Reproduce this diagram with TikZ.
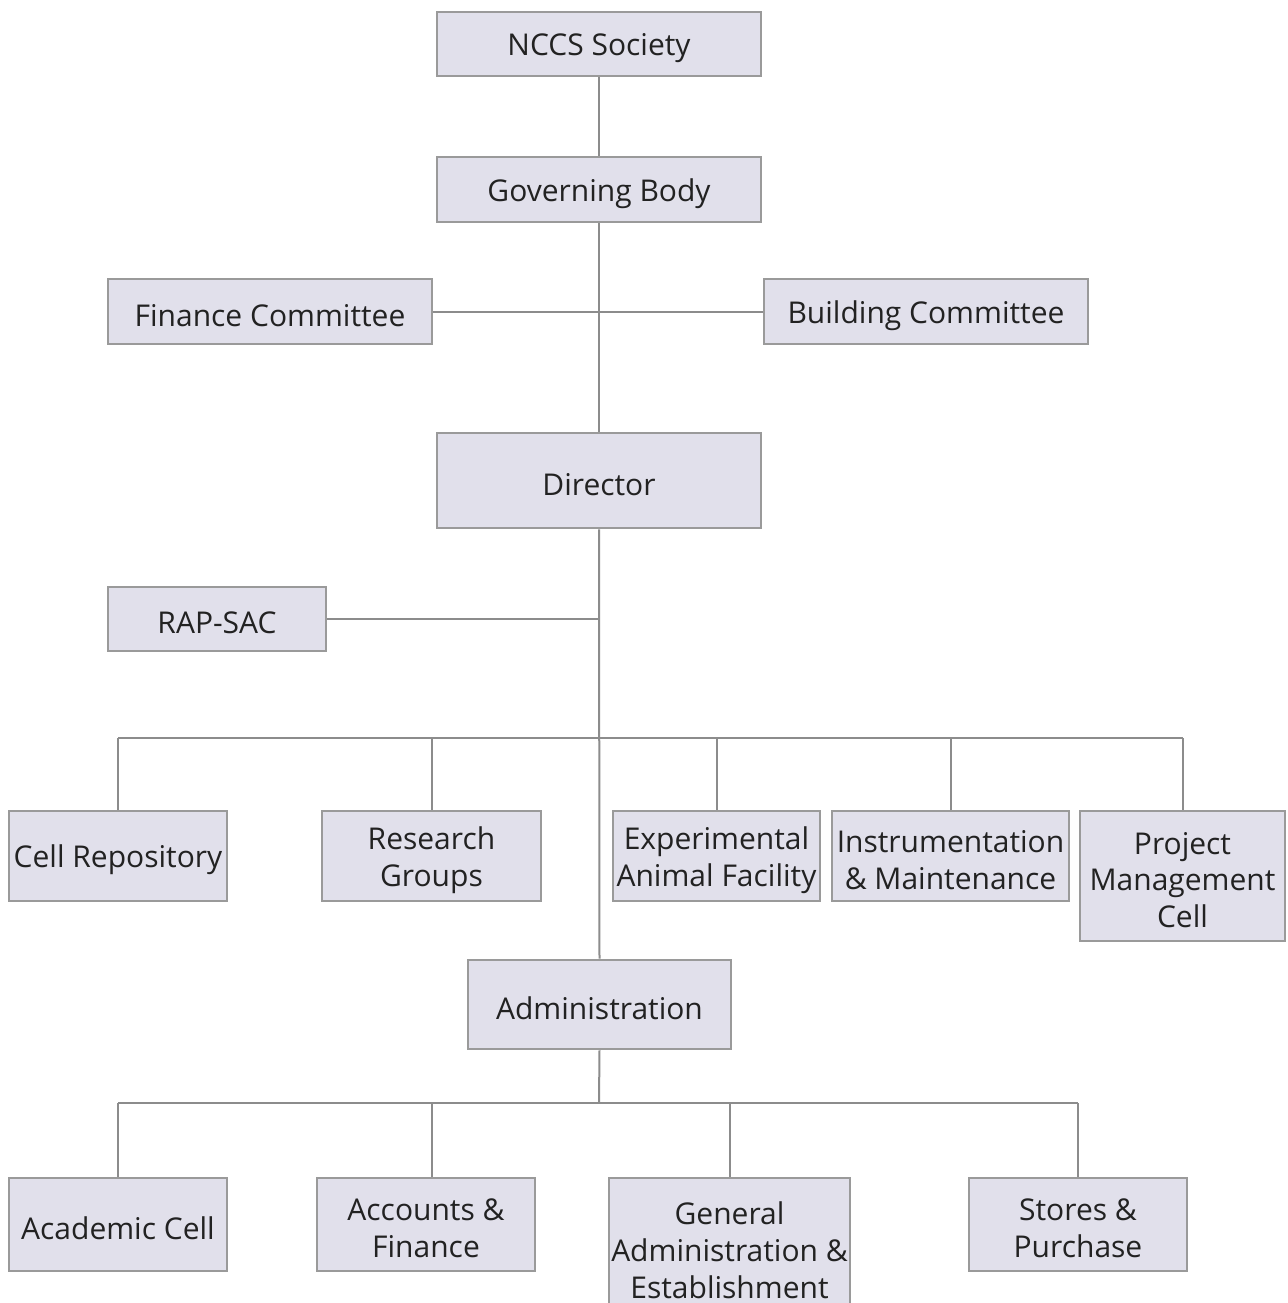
\documentclass[tikz,border=0pt]{standalone}
\usepackage{fontspec}
\setmainfont{Open Sans}
\definecolor{boxfill}{HTML}{E1E0EB}
\definecolor{boxline}{HTML}{9A9A9A}
\definecolor{conn}{HTML}{8C8C8C}
\definecolor{txt}{HTML}{222222}
\begin{document}
\begin{tikzpicture}[x=0.5pt,y=-0.5pt,
  orgbox/.style={draw=boxline, line width=1.4pt, fill=boxfill, rectangle, inner sep=0pt},
  boxtext/.style={text=txt, align=center, inner sep=0pt, yshift=-2pt,
    font=\fontsize{15}{18.4}\selectfont},
  lbl/.style={label={[boxtext]center:#1}},
  link/.style={draw=conn, line width=1pt}]
\useasboundingbox (0,0) rectangle (1287,1303);
\fill[white] (0,0) rectangle (1287,1303);
\coordinate (bus) at (599,738);
\coordinate (busL) at (118,738);
\coordinate (busR) at (1183,738);
\coordinate (abus) at (599,1103);
\coordinate (abusL) at (118,1103);
\coordinate (abusR) at (1078,1103);
% nodes
\node[orgbox, minimum width=162pt, minimum height=32pt, lbl={NCCS Society}] (nccs) at (599,44) {};
\node[orgbox, minimum width=162pt, minimum height=32.5pt, lbl={Governing Body}] (gov) at (599,189.5) {};
\node[orgbox, minimum width=162pt, minimum height=32.5pt, lbl={Finance Committee}] (fin) at (270,311.5) {};
\node[orgbox, minimum width=162pt, minimum height=32.5pt, lbl={Building Committee}] (bld) at (926,311.5) {};
\node[orgbox, minimum width=162pt, minimum height=47.5pt, lbl={Director}] (dir) at (599,480.5) {};
\node[orgbox, minimum width=109pt, minimum height=32pt, lbl={RAP-SAC}] (rap) at (217,619) {};
\node[orgbox, minimum width=109pt, minimum height=45pt, lbl={Cell Repository}] (cell) at (118,856) {};
\node[orgbox, minimum width=109.5pt, minimum height=45pt, lbl={{Research\\Groups}}] (res) at (431.5,856) {};
\node[orgbox, minimum width=103.5pt, minimum height=45pt, lbl={{Experimental\\Animal Facility}}] (exp) at (716.5,856) {};
\node[orgbox, minimum width=118.5pt, minimum height=45pt, lbl={{Instrumentation\\\& Maintenance}}] (ins) at (950.5,856) {};
\node[orgbox, minimum width=102.5pt, minimum height=65pt, lbl={{Project\\Management\\Cell}}] (pmc) at (1182.5,876) {};
\node[orgbox, minimum width=131.5pt, minimum height=44.5pt, lbl={Administration}] (adm) at (599.5,1004.5) {};
\node[orgbox, minimum width=109pt, minimum height=46.5pt, lbl={Academic Cell}] (aca) at (118,1224.5) {};
\node[orgbox, minimum width=109pt, minimum height=46.5pt, lbl={{Accounts \&\\Finance}}] (acc) at (426,1224.5) {};
\node[orgbox, minimum width=120.5pt, minimum height=68pt, lbl={{General\\Administration \&\\Establishment}}] (gen) at (729.5,1246) {};
\node[orgbox, minimum width=109pt, minimum height=46.5pt, lbl={{Stores \&\\Purchase}}] (sto) at (1078,1224.5) {};
% links
\draw[link] (nccs.south) -- (gov.north);
\draw[link] (gov.south) -- (dir.north);
\draw[link] (fin.east) -- (bld.west);
\draw[link] (dir.south) -- (adm.north);
\draw[link] (rap.east) -- (rap.east -| dir.south);
\draw[link] (busL) -- (busR);
\draw[link] (cell.north) -- (cell.north |- bus);
\draw[link] (res.north) -- (res.north |- bus);
\draw[link] (exp.north) -- (exp.north |- bus);
\draw[link] (ins.north) -- (ins.north |- bus);
\draw[link] (pmc.north) -- (pmc.north |- bus);
\draw[link] (adm.south) -- (abus);
\draw[link] (abusL) -- (abusR);
\draw[link] (aca.north) -- (aca.north |- abus);
\draw[link] ([xshift=3pt]acc.north) -- ([xshift=3pt]acc.north |- abus);
\draw[link] (gen.north) -- (gen.north |- abus);
\draw[link] (sto.north) -- (sto.north |- abus);
\end{tikzpicture}
\end{document}
